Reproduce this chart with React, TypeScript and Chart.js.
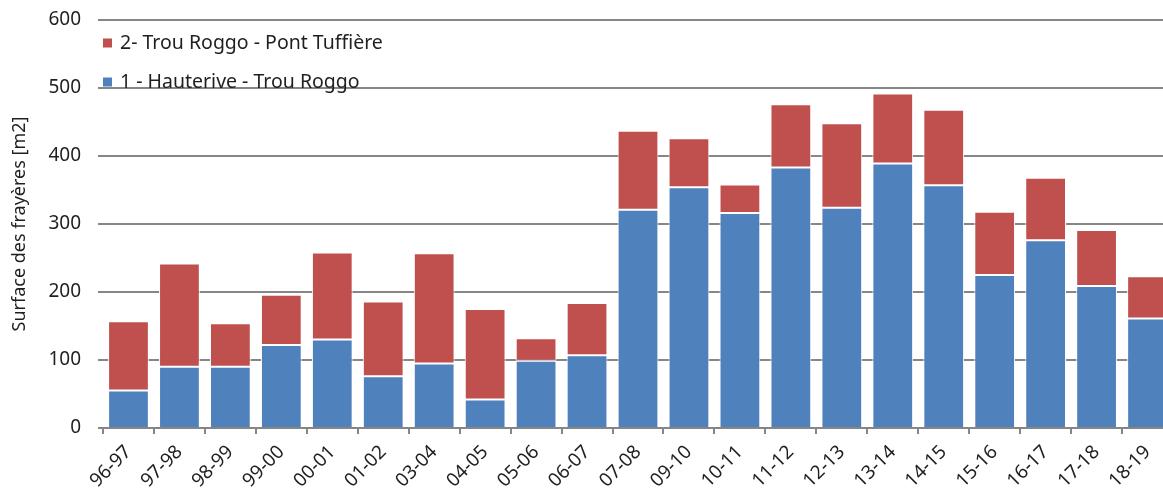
import React, { useEffect, useRef } from "react";
import { Chart, registerables } from "chart.js";

Chart.register(...registerables);

const categories = [
  "96-97", "97-98", "98-99", "99-00", "00-01", "01-02", "03-04", "04-05", "05-06", "06-07",
  "07-08", "09-10", "10-11", "11-12", "12-13", "13-14", "14-15", "15-16", "16-17", "17-18", "18-19",
];

const hauterive = [55, 90, 90, 122, 130, 76, 95, 42, 99, 107, 321, 354, 316, 383, 324, 389, 357, 225, 276, 209, 161];
const pontTuffiere = [102, 152, 64, 74, 128, 110, 162, 133, 33, 77, 116, 72, 42, 93, 124, 103, 111, 93, 92, 82, 62];

const yTicks = [0, 100, 200, 300, 400, 500, 600];

const seriesLabels = ["1 - Hauterive - Trou Roggo", "2- Trou Roggo - Pont Tuffière"];
const seriesColors = ["#4F81BD", "#C0504D"];

const FONT = "'Noto Sans', sans-serif";
const TEXT = "#1f1f1f";
const GRID = "#868686";

const insideLegend = {
  id: "insideLegend",
  afterDatasetsDraw(chart: any) {
    const { ctx, chartArea } = chart;
    const ds = chart.data.datasets;
    ctx.save();
    ctx.font = `19.5px ${FONT}`;
    ctx.textBaseline = "middle";
    ctx.textAlign = "left";
    const order = [1, 0];
    order.forEach((idx, row) => {
      const d = ds[idx];
      const y = chartArea.top + 23 + row * 39;
      const x = chartArea.left;
      ctx.fillStyle = d.backgroundColor;
      ctx.fillRect(x, y - 4.5, 9, 9);
      ctx.fillStyle = TEXT;
      ctx.fillText(d.label, x + 17, y);
    });
    ctx.restore();
  },
};

export default function App() {
  const ref = useRef<HTMLCanvasElement>(null);

  useEffect(() => {
    if (!ref.current) return;
    const chart = new Chart(ref.current, {
      type: "bar",
      data: {
        labels: categories,
        datasets: [
          {
            label: seriesLabels[0],
            data: hauterive,
            backgroundColor: seriesColors[0],
            borderColor: "#ffffff",
            borderWidth: 1,
            borderSkipped: "start",
            barPercentage: 0.8,
            categoryPercentage: 1,
          },
          {
            label: seriesLabels[1],
            data: pontTuffiere,
            backgroundColor: seriesColors[1],
            borderColor: "#ffffff",
            borderWidth: 1,
            borderSkipped: false,
            barPercentage: 0.8,
            categoryPercentage: 1,
          },
        ],
      },
      options: {
        animation: false,
        responsive: true,
        maintainAspectRatio: false,
        layout: { padding: { top: 20, right: 0, left: 0, bottom: 0 } },
        plugins: {
          legend: { display: false },
          tooltip: { enabled: false },
        },
        scales: {
          x: {
            stacked: true,
            afterFit: (s: any) => {
              s.height = 65;
            },
            grid: {
              display: true,
              offset: true,
              drawOnChartArea: false,
              drawTicks: true,
              tickLength: 6,
              color: GRID,
              lineWidth: 2,
            },
            border: { display: true, color: GRID, width: 2 },
            ticks: {
              color: TEXT,
              font: { family: FONT, size: 19 },
              minRotation: 45,
              maxRotation: 45,
              padding: 7,
              autoSkip: false,
            },
          },
          y: {
            stacked: true,
            min: 0,
            max: 600,
            afterFit: (s: any) => {
              s.width = 103;
              s.paddingTop = 0;
            },
            afterBuildTicks: (s: any) => {
              s.ticks = yTicks.map((v) => ({ value: v }));
            },
            grid: {
              color: GRID,
              lineWidth: 2,
              tickLength: 5,
              drawTicks: true,
            },
            border: { display: false },
            ticks: {
              color: TEXT,
              font: { family: FONT, size: 19 },
              padding: 17,
            },
            title: {
              display: true,
              text: "Surface des frayères [m2]",
              color: TEXT,
              font: { family: FONT, size: 18 },
              padding: { top: 9, bottom: 0 },
            },
          },
        },
      },
      plugins: [insideLegend],
    });
    return () => chart.destroy();
  }, []);

  return (
    <div style={{ position: "absolute", left: 0, top: 0, width: 1163, height: 493, overflow: "hidden", background: "#fff" }}>
      <div style={{ position: "relative", width: 1173, height: 493 }}>
        <canvas ref={ref} />
      </div>
    </div>
  );
}
